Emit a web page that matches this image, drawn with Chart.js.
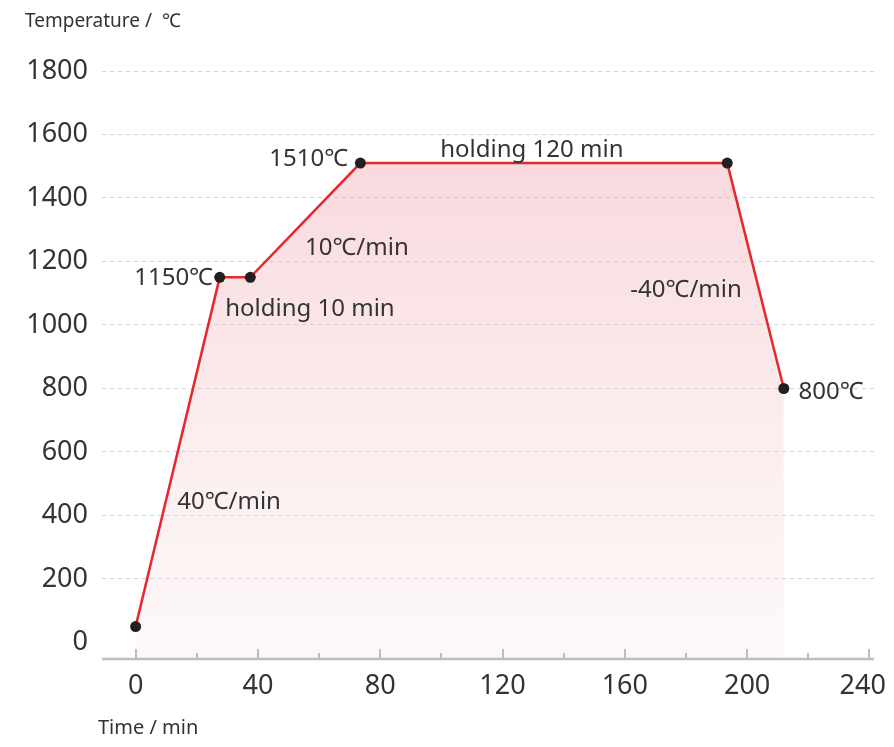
<!DOCTYPE html>
<html>
<head>
<meta charset="utf-8">
<script src="https://cdn.jsdelivr.net/npm/chart.js@4"></script>
<style>
html,body{margin:0;padding:0;background:#fff;}
#wrap{width:894px;height:747px;position:relative;}
</style>
</head>
<body>
<div id="wrap"><canvas id="c" width="894" height="747"></canvas></div>
<script>
// ---- data ----
const timeMin = [0, 27.5, 37.5, 73.5, 193.5, 212];
const temperature = [50, 1150, 1150, 1510, 1510, 800];
const yTickValues = [0, 200, 400, 600, 800, 1000, 1200, 1400, 1600, 1800];
const xMajorTicks = [0, 40, 80, 120, 160, 200, 240];
const xMinorTicks = [20, 60, 100, 140, 180, 220];
const annotationTexts = ['1510℃', 'holding 120 min', '1150℃', 'holding 10 min', '10℃/min', '-40℃/min', '800℃', '40℃/min'];
const annotationX = [69.5, 129.6, 25.3, 29.3, 55.4, 161.8, 216.8, 13.6];
const annotationY = [1521, 1552, 1148, 1051, 1241, 1111, 790, 443];
const annotationAlign = ['right', 'center', 'right', 'left', 'left', 'left', 'left', 'left'];
const yTitle = 'Temperature /  ℃';
const xTitle = 'Time / min';

const FONT = '"Noto Sans", "Noto Sans CJK SC", sans-serif';
const TXT = '#333333';

const points = timeMin.map((t, i) => ({x: t, y: temperature[i]}));

const decorPlugin = {
  id: 'decor',
  afterDatasetsDraw(chart) {
    const ctx = chart.ctx;
    const xs = chart.scales.x, ys = chart.scales.y;
    const base = chart.chartArea.bottom;
    ctx.save();
    // axis line
    ctx.strokeStyle = '#bdbdbd';
    ctx.lineWidth = 2.5;
    ctx.beginPath();
    ctx.moveTo(chart.chartArea.left, base);
    ctx.lineTo(chart.chartArea.right, base);
    ctx.stroke();
    // tick marks (inward)
    ctx.lineWidth = 2;
    xMajorTicks.forEach(v => {
      const px = Math.round(xs.getPixelForValue(v));
      ctx.beginPath(); ctx.moveTo(px, base); ctx.lineTo(px, base - 10); ctx.stroke();
    });
    xMinorTicks.forEach(v => {
      const px = Math.round(xs.getPixelForValue(v));
      ctx.beginPath(); ctx.moveTo(px, base); ctx.lineTo(px, base - 6); ctx.stroke();
    });
    // annotations
    ctx.fillStyle = TXT;
    ctx.font = '24px ' + FONT;
    ctx.textBaseline = 'middle';
    annotationTexts.forEach((t, i) => {
      ctx.textAlign = annotationAlign[i];
      ctx.fillText(t, xs.getPixelForValue(annotationX[i]), ys.getPixelForValue(annotationY[i]));
    });
    // axis titles
    ctx.font = '19px ' + FONT;
    ctx.textAlign = 'left';
    ctx.fillText(yTitle, 25, 22);
    ctx.font = '20px ' + FONT;
    ctx.fillText(xTitle, 98, 728);
    ctx.restore();
  }
};

const ctx = document.getElementById('c').getContext('2d');
const grad = ctx.createLinearGradient(0, 167, 0, 659);
grad.addColorStop(0, 'rgba(240,160,170,0.40)');
grad.addColorStop(1, 'rgba(245,215,215,0.18)');

new Chart(ctx, {
  type: 'line',
  data: {
    datasets: [{
      data: points,
      borderColor: '#e8262d',
      borderWidth: 2.5,
      backgroundColor: grad,
      fill: 'start',
      tension: 0,
      pointRadius: 5.5,
      pointHoverRadius: 5.5,
      pointBackgroundColor: '#231f20',
      pointBorderColor: '#231f20',
      pointBorderWidth: 0
    }]
  },
  options: {
    responsive: false,
    animation: false,
    events: [],
    layout: {padding: {top: 71, right: 20, bottom: 0, left: 0}},
    plugins: {legend: {display: false}, tooltip: {enabled: false}, title: {display: false}},
    scales: {
      x: {
        type: 'linear',
        min: -11,
        max: 241.5,
        border: {display: false},
        grid: {display: false, drawTicks: false},
        afterBuildTicks: (axis) => { axis.ticks = xMajorTicks.map(v => ({value: v})); },
        afterFit: (axis) => { axis.height = 88; axis.paddingLeft = 0; axis.paddingRight = 0; },
        ticks: {
          autoSkip: false,
          maxRotation: 0,
          padding: 11,
          color: TXT,
          font: {family: FONT, size: 27},
          callback: (v) => (v === 240 ? String(v) + '\u2002' : String(v))
        }
      },
      y: {
        type: 'linear',
        min: -52,
        max: 1800,
        border: {display: false, dash: [4, 4]},
        grid: {
          drawTicks: false,
          color: (c) => (c.tick && c.tick.value === 0) ? 'rgba(0,0,0,0)' : '#d4d4d4',
          lineWidth: 1,
        },
        afterBuildTicks: (axis) => { axis.ticks = yTickValues.map(v => ({value: v})); },
        afterFit: (axis) => { axis.width = 102; axis.paddingTop = 0; axis.paddingBottom = 0; },
        ticks: {
          autoSkip: false,
          padding: 14,
          color: TXT,
          font: {family: FONT, size: 27},
          callback: (v) => String(v)
        }
      }
    }
  },
  plugins: [decorPlugin]
});
</script>
</body>
</html>
